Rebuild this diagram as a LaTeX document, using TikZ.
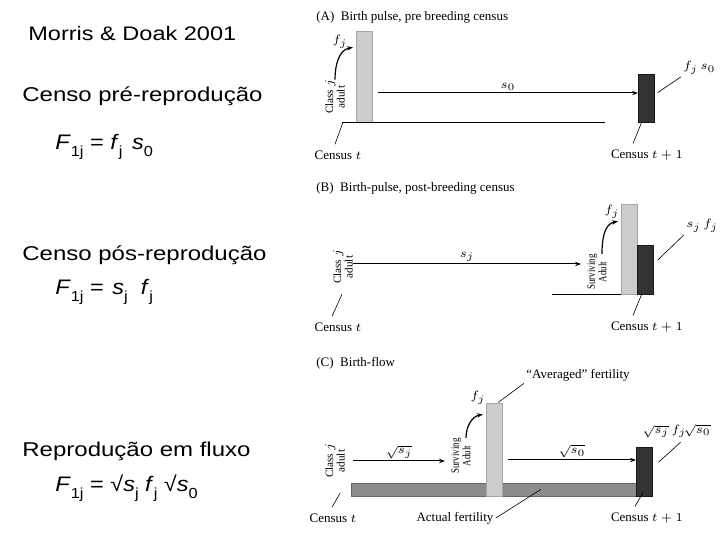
\documentclass[tikz,border=0pt]{standalone}
\usepackage{fontspec}
\setmainfont{Liberation Serif}
\newfontfamily\slide[FakeStretch=1.2]{Liberation Sans}
\newfontfamily\slideeq[FakeStretch=1.12]{Liberation Sans}
\newfontfamily\narrow[FakeStretch=0.8]{Liberation Serif}
\usetikzlibrary{arrows.meta,positioning,calc}
\newcommand{\sbs}[1]{\raisebox{-0.32em}{\fontsize{7.3}{8}\selectfont #1}}

\begin{document}
\begin{tikzpicture}[x=0.5pt, y=-0.5pt,
  head/.style={font=\slide\fontsize{10}{12}\selectfont, anchor=base west, inner sep=0pt},
  eq/.style={font=\slideeq\fontsize{10.5}{12}\selectfont, anchor=base west, inner sep=0pt},
  fig/.style={font=\fontsize{6.5}{7.5}\selectfont, inner sep=1pt},
  ttl/.style={fig, anchor=west},
  cls/.style={rotate=90, align=center, inner sep=0pt, font=\fontsize{5.6}{5.8}\selectfont},
  surv/.style={cls, font=\narrow\fontsize{5.6}{5.8}\selectfont},
  bar/.style={anchor=south west, inner sep=0pt, minimum width=8pt, line width=0.3pt},
  lightbar/.style={bar, fill=black!20, draw=black!35},
  darkbar/.style={bar, fill=black!80, draw=black!90},
  midbar/.style={bar, fill=black!45, draw=black!60},
  arr/.style={-{Stealth[length=3pt, width=2.2pt]}, line width=0.5pt},
  curvearr/.style={arr, line width=0.6pt},
  lead/.style={line width=0.3pt},
  base/.style={line width=0.5pt}
]
\useasboundingbox (0,0) rectangle (720,540);

% left column: slide text
\node[head, font=\slide\fontsize{9.8}{12}\selectfont] (src) at (28,41) {Morris \& Doak 2001};
\node[head] (preT) at (22,102) {Censo pré-reprodução};
\node[eq] (preF) at (55,150) {\textit{F}\sbs{1j} = \textit{f}\sbs{j}\hspace{1.5pt} \textit{s}\sbs{0}};
\node[head] (posT) at (22,261) {Censo pós-reprodução};
\node[eq] (posF) at (55,295) {\textit{F}\sbs{1j} = \hspace{1pt}\textit{s}\sbs{j}\ \ \textit{f}\sbs{j}};
\node[head] (flowT) at (22,457) {Reprodução em fluxo};
\node[eq] (flowF) at (55,492) {\textit{F}\sbs{1j} = √\textit{s}\sbs{j} \textit{f}\sbs{j} √\textit{s}\sbs{0}};

% (A) birth pulse, pre-breeding
\node[ttl] (titA) at (314,17) {(A)\enspace Birth pulse, pre breeding census};
\node[lightbar, minimum height=45.5pt] (barA) at (356,123) {};
\node[darkbar, minimum height=24pt] (darkA) at (638,123) {};
\coordinate (lineA) at (342,123);
\draw[base] (lineA) -- ++(263,0);
\node[cls] (clsA) at (335,97) {Class $j$\\adult};
\coordinate (sA) at (378,93);
\draw[arr] (sA) -- node[fig, above] (s0A) {$s_0$} (sA -| darkA.west);
\draw[curvearr] (clsA.east) to[out=90, in=190] ($(barA.north west)+(-3,16)$);
\node[fig] (fjA) at (340,42) {$f_j$};
\node[fig, anchor=west] (prodA) at (681,68) {$f_j\,s_0$};
\draw[lead] ($(darkA.east)+(3,-6)$) -- (prodA.south west);
\node[fig] (cenA) at (338,155) {Census $t$};
\draw[lead] (cenA.north) ++(-3,-4) -- ++(8,-22);
\node[fig] (cenA1) at (647,155) {Census $t+1$};
\draw[lead] (cenA1.north) ++(-14,-4) -- ++(9,-22);

% (B) birth pulse, post-breeding
\node[ttl] (titB) at (314,188) {(B)\enspace Birth-pulse, post-breeding census};
\node[lightbar, minimum height=45pt] (barB) at (621,295) {};
\node[darkbar, minimum height=24.5pt] (darkB) at (637,295) {};
\coordinate (lineB) at (552,295);
\draw[base] (lineB) -- (barB.south west);
\node[cls] (clsB) at (343,267) {Class $j$\\adult};
\node[surv] (survB) at (597,272) {Surviving\\Adult};
\coordinate (sB) at (353,264);
\draw[arr] (sB) -- node[fig, above] (sjB) {$s_j$} ($(sB -| survB.north)+(-6,0)$);
\draw[curvearr] ($(survB.east)+(5,0)$) to[out=90, in=190] ($(barB.north west)+(-3,17)$);
\node[fig] (fjB) at (612,212) {$f_j$};
\node[fig, anchor=west] (prodB) at (684,226) {$s_j\,f_j$};
\draw[lead] ($(darkB.east)+(4,-10)$) -- (prodB.south west);
\node[fig] (cenB) at (338,327) {Census $t$};
\draw[lead] (cenB.north) ++(-6,-4) -- ++(10,-22);
\node[fig] (cenB1) at (647,327) {Census $t+1$};
\draw[lead] (cenB1.north) ++(-14,-4) -- ++(9,-22);

% (C) birth-flow
\node[ttl] (titC) at (314,363) {(C)\enspace Birth-flow};
\node[midbar, minimum width=142.5pt, minimum height=6.5pt] (actC) at (351,497) {};
\node[lightbar, minimum height=46.5pt] (barC) at (486,497) {};
\node[darkbar, minimum height=24.5pt] (darkC) at (636,497) {};
\node[cls] (clsC) at (335,461) {Class $j$\\adult};
\node[surv] (survC) at (461,456) {Surviving\\Adult};
\coordinate (sjC) at (353,461);
\draw[arr] (sjC) -- node[fig, above] (sqsj) {$\sqrt{s_j}$} ($(sjC -| survC.north)+(-6,0)$);
\coordinate (s0C) at (508,460);
\draw[arr] (s0C) -- node[fig, above] (sqs0) {$\sqrt{s_0}$} (s0C -| darkC.west);
\draw[curvearr] ($(survC.east)+(5,0)$) to[out=90, in=190] ($(barC.north west)+(-3,11)$);
\node[fig] (fjC) at (478,398) {$f_j$};
\node[fig] (avgC) at (578,375) {``Averaged'' fertility};
\draw[lead] ($(barC.north)+(4,-1)$) -- (avgC.south west);
\node[fig] (actL) at (455,518) {Actual fertility};
\draw[lead] (actL.east) -- ($(actC.north)+(47,6)$);
\node[fig, anchor=east, font=\fontsize{6}{7}\selectfont, inner sep=0.5pt] (prodC) at (712,431) {$\sqrt{s_j}\,f_j\!\sqrt{s_0}$};
\coordinate (prodCfoot) at ($(darkC.east)+(6,-10)$);
\draw[lead] (prodCfoot) -- ++(22,-20);
\node[fig] (cenC) at (333,518) {Census $t$};
\draw[lead] (cenC.north) ++(-1,-4) -- ++(8,-14);
\node[fig] (cenC1) at (647,518) {Census $t+1$};
\draw[lead] (cenC1.north) ++(-12,-4) -- ++(8,-14);
\end{tikzpicture}
\end{document}
